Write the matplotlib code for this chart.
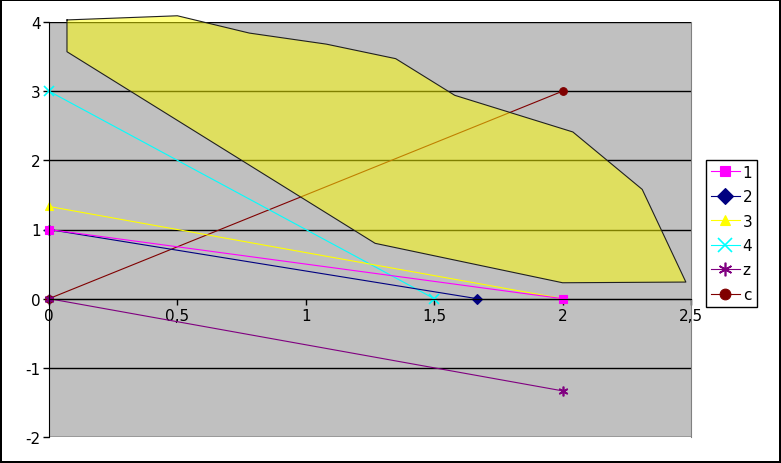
import matplotlib
matplotlib.use("Agg")
import matplotlib.pyplot as plt
from matplotlib.patches import Polygon

# --- data ---
region_x = [0.07, 0.50, 0.78, 1.08, 1.35, 1.58, 2.04, 2.31, 2.48, 2.00, 1.27, 0.07]
region_y = [4.03, 4.09, 3.84, 3.68, 3.47, 2.94, 2.41, 1.58, 0.24, 0.23, 0.80, 3.57]

series_names = ["1", "2", "3", "4", "z", "c"]
series_x = [[0, 2], [0, 1.667], [0, 2], [0, 1.5], [0, 2], [0, 2]]
series_y = [[1, 0], [1, 0], [1.333, 0], [3, 0], [0, -1.333], [0, 3]]
series_colors = ["#ff00ff", "#000080", "#ffff00", "#00ffff", "#800080", "#800000"]
series_markers = ["s", "D", "^", "x", (6, 2, 0), "o"]

x_ticks = [0, 0.5, 1, 1.5, 2, 2.5]
x_labels = ["0", "0,5", "1", "1,5", "2", "2,5"]
y_ticks = [-2, -1, 0, 1, 2, 3, 4]

plt.rcParams["font.family"] = "DejaVu Sans"

fig = plt.figure(figsize=(7.81, 4.64), dpi=100)
fig.patch.set_facecolor("white")
fig.patch.set_edgecolor("black")
fig.patch.set_linewidth(1.5)

ax = fig.add_axes([49 / 781, 26 / 464, 642 / 781, 415 / 464])
ax.set_facecolor("#c0c0c0")
ax.set_xlim(0, 2.5)
ax.set_ylim(-2, 4)

# horizontal gridlines
for yv in y_ticks:
    ax.axhline(yv, color="black", lw=1, zorder=1)

# series lines (first series ends up on top, like the original)
n = len(series_names)
for i, (name, xs, ys, col, mk) in enumerate(zip(series_names, series_x, series_y, series_colors, series_markers)):
    thin = mk in ("x",) or isinstance(mk, tuple)
    ms = 7 if thin else 5.5
    mew = 1.2 if thin else 0.8
    ax.plot(xs, ys, color=col, lw=0.8, marker=mk, markersize=ms,
            markeredgewidth=mew, markeredgecolor=col, markerfacecolor=col,
            label=name, zorder=2 + (n - i) * 0.01, clip_on=False)

# semi-transparent yellow region on top
poly = Polygon(list(zip(region_x, region_y)), closed=True, facecolor="#ffff00",
               alpha=0.5, edgecolor="none", zorder=3, clip_on=False)
ax.add_patch(poly)
ax.plot(region_x + [region_x[0]], region_y + [region_y[0]], color="#202020",
        lw=0.8, zorder=4, clip_on=False)

# axes styling
ax.spines["bottom"].set_position(("data", 0))
ax.spines["bottom"].set_color("black")
ax.spines["left"].set_color("black")
ax.spines["top"].set_visible(False)
ax.spines["right"].set_color("#808080")
ax.set_xticks(x_ticks)
ax.set_xticklabels(x_labels)
ax.set_yticks(y_ticks)
ax.set_yticklabels([str(v) for v in y_ticks])
ax.tick_params(axis="both", direction="out", length=4, width=1, labelsize=11, pad=2)
ax.tick_params(axis="x", pad=3)

leg = ax.legend(loc="upper left", bbox_to_anchor=(706 / 781, 1 - 161 / 464),
                bbox_transform=fig.transFigure, fontsize=11, frameon=True,
                fancybox=False, edgecolor="black", framealpha=1,
                handlelength=1.9, handletextpad=0.2, borderpad=0.3,
                labelspacing=0.62, borderaxespad=0, markerscale=1.4)
leg.get_frame().set_linewidth(1)

fig.savefig("out.png", dpi=100, facecolor=fig.get_facecolor(), edgecolor=fig.get_edgecolor())
